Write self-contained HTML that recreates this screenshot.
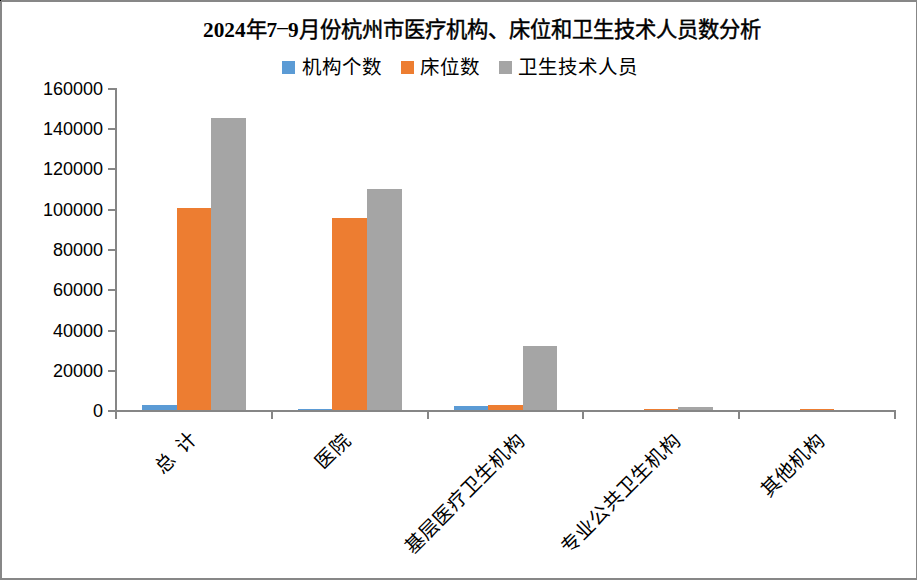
<!DOCTYPE html>
<html lang="zh-CN">
<head>
<meta charset="utf-8">
<title>2024年7-9月份杭州市医疗机构、床位和卫生技术人员数分析</title>
<style>
*{margin:0;padding:0;box-sizing:border-box;}
html,body{width:917px;height:580px;overflow:hidden;background:#fff;}
body{font-family:"Liberation Sans",sans-serif;color:#000;}
#chart{position:absolute;left:0;top:0;width:917px;height:580px;background:#fff;
  border-style:solid;border-color:#878787;border-width:2px 1px 2px 2px;}
.abs{position:absolute;}
#title{position:absolute;left:203px;top:18.2px;white-space:nowrap;
  font-family:"Liberation Serif",serif;font-weight:bold;font-size:21.3px;line-height:24px;}
#title span{font-weight:normal;-webkit-text-stroke:0.45px #000;}
#title i{font-style:normal;}
.dash{display:inline-block;width:10.65px;text-align:center;}
.dash i{display:inline-block;transform:translateY(-2.5px) scale(2,0.7);}
.key{position:absolute;top:61px;width:13px;height:13px;}
.ltxt{position:absolute;top:56px;font-size:19.5px;line-height:22px;white-space:nowrap;}
.yl{position:absolute;right:814px;font-size:18px;line-height:20px;text-align:right;white-space:nowrap;}
.ax{position:absolute;background:#868686;}
.bar{position:absolute;}
.b1{background:#5b9bd5;}
.b2{background:#ed7d31;}
.b3{background:#a5a5a5;}
.cl{position:absolute;font-size:19.5px;line-height:22px;white-space:nowrap;transform-origin:100% 0;transform:rotate(-45deg);}
</style>
</head>
<body>
<div id="chart"></div>
<div class="abs" style="left:0;top:0;width:1px;height:1px;background:#000"></div>
<div id="title"><b>2024</b><span>年</span><b>7<i class="dash"><i>-</i></i>9</b><span>月份杭州市医疗机构、床位和卫生技术人员数分析</span></div>

<div class="key b1" style="left:282px"></div><div class="ltxt" style="left:302px">机构个数</div>
<div class="key b2" style="left:401px"></div><div class="ltxt" style="left:420px">床位数</div>
<div class="key b3" style="left:499px"></div><div class="ltxt" style="left:518px">卫生技术人员</div>

<div class="yl" style="top:79px">160000</div>
<div class="yl" style="top:119px">140000</div>
<div class="yl" style="top:159px">120000</div>
<div class="yl" style="top:200px">100000</div>
<div class="yl" style="top:240px">80000</div>
<div class="yl" style="top:280px">60000</div>
<div class="yl" style="top:321px">40000</div>
<div class="yl" style="top:361px">20000</div>
<div class="yl" style="top:401px">0</div>

<!-- y ticks -->
<div class="ax" style="left:108px;top:88px;width:8px;height:2px"></div>
<div class="ax" style="left:108px;top:128px;width:8px;height:2px"></div>
<div class="ax" style="left:108px;top:168px;width:8px;height:2px"></div>
<div class="ax" style="left:108px;top:209px;width:8px;height:2px"></div>
<div class="ax" style="left:108px;top:249px;width:8px;height:2px"></div>
<div class="ax" style="left:108px;top:289px;width:8px;height:2px"></div>
<div class="ax" style="left:108px;top:330px;width:8px;height:2px"></div>
<div class="ax" style="left:108px;top:370px;width:8px;height:2px"></div>
<div class="ax" style="left:108px;top:410px;width:8px;height:2px"></div>

<!-- bars -->
<div class="bar b1" style="left:142px;top:405px;width:35px;height:5px"></div>
<div class="bar b2" style="left:177px;top:208px;width:34px;height:202px"></div>
<div class="bar b3" style="left:211px;top:118px;width:35px;height:292px"></div>

<div class="bar b1" style="left:298px;top:409px;width:34px;height:1px"></div>
<div class="bar b2" style="left:332px;top:218px;width:35px;height:192px"></div>
<div class="bar b3" style="left:367px;top:189px;width:35px;height:221px"></div>

<div class="bar b1" style="left:454px;top:406px;width:34px;height:4px"></div>
<div class="bar b2" style="left:488px;top:405px;width:35px;height:5px"></div>
<div class="bar b3" style="left:523px;top:346px;width:34px;height:64px"></div>

<div class="bar b2" style="left:644px;top:409px;width:34px;height:1px"></div>
<div class="bar b3" style="left:678px;top:407px;width:35px;height:3px"></div>

<div class="bar b2" style="left:800px;top:409px;width:34px;height:1px"></div>

<!-- axes -->
<div class="ax" style="left:115px;top:88px;width:2px;height:331px"></div>
<div class="ax" style="left:115px;top:410px;width:781px;height:2px"></div>
<div class="ax" style="left:271px;top:410px;width:2px;height:9px"></div>
<div class="ax" style="left:427px;top:410px;width:2px;height:9px"></div>
<div class="ax" style="left:582px;top:410px;width:2px;height:9px"></div>
<div class="ax" style="left:738px;top:410px;width:2px;height:9px"></div>
<div class="ax" style="left:894px;top:410px;width:2px;height:9px"></div>

<!-- category labels -->
<div class="cl" style="right:731px;top:427.2px">总&ensp;计</div>
<div class="cl" style="right:578px;top:428.7px">医院</div>
<div class="cl" style="right:404.5px;top:428.7px">基层医疗卫生机构</div>
<div class="cl" style="right:248.3px;top:428.7px">专业公共卫生机构</div>
<div class="cl" style="right:103.6px;top:428.7px">其他机构</div>
</body>
</html>
